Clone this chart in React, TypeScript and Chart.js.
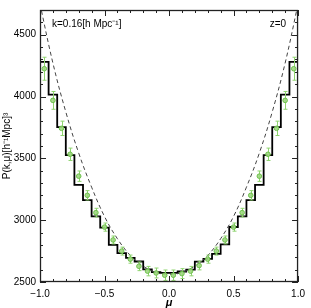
import React, { useEffect, useRef } from "react";
import { Chart, registerables } from "chart.js";
Chart.register(...registerables);

// 30 bins in mu from -1 to 1
const binCount = 30;
const binEdges = Array.from({ length: binCount + 1 }, (_, i) => -1 + (2 * i) / binCount);
const binCenters = binEdges.slice(0, binCount).map((e, i) => (e + binEdges[i + 1]) / 2);

const histValues = [
  4280, 4015, 3753, 3527, 3286, 3162, 3030, 2940, 2800, 2734, 2695, 2666, 2602, 2580, 2573,
  2573, 2585, 2600, 2664, 2687, 2728, 2804, 2945, 3030, 3162, 3286, 3527, 3753, 4015, 4280,
];

const pointValues = [
  4225, 3969, 3743, 3533, 3356, 3201, 3061, 2944, 2840, 2750, 2685, 2627, 2588, 2573, 2555,
  2555, 2568, 2588, 2633, 2685, 2750, 2840, 2944, 3061, 3201, 3356, 3533, 3743, 3969, 4225,
];

const pointErrors = [
  93, 72, 58, 50, 42, 38, 35, 33, 32, 32, 33, 35, 38, 40, 42,
  42, 40, 38, 35, 33, 32, 32, 33, 35, 38, 42, 50, 58, 72, 93,
];

const modelMu = [-1, -0.9, -0.8, -0.7, -0.6, -0.5, -0.4, -0.3, -0.2, -0.1, 0, 0.1, 0.2, 0.3, 0.4, 0.5, 0.6, 0.7, 0.8, 0.9, 1];
const modelValues = [4749, 4271, 3876, 3543, 3267, 3030, 2850, 2715, 2628, 2577, 2560, 2577, 2628, 2715, 2850, 3030, 3267, 3543, 3876, 4271, 4749];

const xMajorTicks = [-1, -0.5, 0, 0.5, 1];
const yMajorTicks = [2500, 3000, 3500, 4000, 4500];
const xMinorStep = 0.1;
const yMinorStep = 100;

const Y_MIN = 2500;
const Y_MAX = 4700;

const FONT = "'Liberation Sans', Arial, sans-serif";

const framePlugin = {
  id: "frameTicks",
  afterDraw(chart: any) {
    const { ctx, chartArea } = chart;
    const xs = chart.scales.x;
    const ys = chart.scales.y;
    const { left, right, top, bottom } = chartArea;
    ctx.save();
    ctx.strokeStyle = "#222";
    ctx.lineWidth = 1;
    ctx.beginPath();
    for (let v = -1; v <= 1.0001; v += xMinorStep) {
      const r = Math.round(v * 10) / 10;
      const major = xMajorTicks.some((t) => Math.abs(t - r) < 1e-6);
      const len = major ? 6 : 3;
      const px = Math.round(xs.getPixelForValue(r)) + 0.5;
      ctx.moveTo(px, bottom);
      ctx.lineTo(px, bottom - len);
      ctx.moveTo(px, top);
      ctx.lineTo(px, top + len);
    }
    for (let v = Y_MIN; v <= Y_MAX; v += yMinorStep) {
      const major = yMajorTicks.includes(v);
      const len = major ? 6 : 3;
      const py = Math.round(ys.getPixelForValue(v)) + 0.5;
      ctx.moveTo(left, py);
      ctx.lineTo(left + len, py);
      ctx.moveTo(right, py);
      ctx.lineTo(right - len, py);
    }
    ctx.stroke();
    ctx.lineWidth = 1.3;
    ctx.strokeRect(left + 0.5, top + 0.5, right - left - 1, bottom - top - 1);
    ctx.fillStyle = "#000";
    ctx.font = `10px ${FONT}`;
    ctx.textBaseline = "middle";
    ctx.textAlign = "left";
    ctx.fillText("k=0.16[h Mpc⁻¹]", left + 12, top + 14);
    ctx.textAlign = "right";
    ctx.fillText("z=0", right - 12, top + 14);
    // x axis title
    ctx.font = `italic bold 11px ${FONT}`;
    ctx.textAlign = "center";
    ctx.fillText("μ", (left + right) / 2, 303);
    ctx.restore();
  },
};

const errorBarPlugin = {
  id: "errorBars",
  afterDatasetDraw(chart: any, args: any) {
    if (args.index !== 1) return;
    const { ctx } = chart;
    const xs = chart.scales.x;
    const ys = chart.scales.y;
    ctx.save();
    ctx.strokeStyle = "#8fd46f";
    ctx.lineWidth = 1;
    ctx.beginPath();
    binCenters.forEach((mu, i) => {
      const px = Math.round(xs.getPixelForValue(mu)) + 0.5;
      const y1 = ys.getPixelForValue(pointValues[i] + pointErrors[i]);
      const y2 = ys.getPixelForValue(pointValues[i] - pointErrors[i]);
      ctx.moveTo(px, y1);
      ctx.lineTo(px, y2);
      ctx.moveTo(px - 2, y1);
      ctx.lineTo(px + 2, y1);
      ctx.moveTo(px - 2, y2);
      ctx.lineTo(px + 2, y2);
    });
    ctx.stroke();
    ctx.restore();
  },
};

export default function App() {
  const ref = useRef<HTMLCanvasElement | null>(null);
  useEffect(() => {
    document.body.style.margin = "0";
    const canvas = ref.current;
    if (!canvas) return;
    const histData = binEdges.map((e, i) => ({ x: e, y: histValues[Math.min(i, binCount - 1)] }));
    const chart = new Chart(canvas, {
      type: "line",
      data: {
        datasets: [
          {
            label: "hist",
            data: histData,
            stepped: "before",
            borderColor: "#000",
            borderWidth: 1.8,
            pointRadius: 0,
            fill: false,
            order: 3,
          },
          {
            label: "model",
            data: modelMu.map((m, i) => ({ x: m, y: modelValues[i] })),
            borderColor: "#444",
            borderWidth: 1,
            borderDash: [4, 3],
            pointRadius: 0,
            tension: 0.4,
            fill: false,
            order: 2,
          },
          {
            label: "points",
            data: binCenters.map((m, i) => ({ x: m, y: pointValues[i] })),
            showLine: false,
            pointRadius: 2.3,
            pointBackgroundColor: "rgba(160,215,130,0.9)",
            pointBorderColor: "#6cc04a",
            pointBorderWidth: 1,
            order: 1,
          },
        ],
      },
      options: {
        animation: false,
        responsive: false,
        maintainAspectRatio: false,
        devicePixelRatio: 1,
        layout: { padding: { top: 0, right: 7, bottom: 0, left: 0 } },
        plugins: { legend: { display: false }, tooltip: { enabled: false } },
        scales: {
          x: {
            type: "linear",
            min: -1,
            max: 1,
            grid: { display: false, drawTicks: false },
            border: { display: false },
            afterBuildTicks: (s: any) => {
              s.ticks = xMajorTicks.map((v) => ({ value: v }));
            },
            afterFit: (s: any) => {
              s.height = 26;
            },
            ticks: {
              padding: 6,
              color: "#000",
              font: { family: FONT, size: 10 },
              maxRotation: 0,
              autoSkip: false,
              callback: (v: any) => Number(v).toFixed(1).replace("-", "−"),
            },
          },
          y: {
            type: "linear",
            min: Y_MIN,
            max: Y_MAX,
            grid: { display: false, drawTicks: false },
            border: { display: false },
            afterBuildTicks: (s: any) => {
              s.ticks = yMajorTicks.map((v) => ({ value: v }));
            },
            afterFit: (s: any) => {
              s.width = 40;
            },
            ticks: {
              padding: 4,
              color: "#000",
              font: { family: FONT, size: 10 },
              autoSkip: false,
              callback: (v: any) => String(v),
            },
            title: {
              display: true,
              text: "P(k,μ)[h⁻¹Mpc]³",
              color: "#000",
              font: { family: FONT, size: 10, lineHeight: 1.2 },
              padding: { top: 1, bottom: 0 },
            },
          },
        },
      },
      plugins: [framePlugin, errorBarPlugin],
    });
    return () => chart.destroy();
  }, []);
  return (
    <div style={{ position: "fixed", left: 0, top: 0, width: 311, height: 308, background: "#fff" }}>
      <canvas ref={ref} width={311} height={308} style={{ width: 311, height: 308, display: "block" }} />
    </div>
  );
}
